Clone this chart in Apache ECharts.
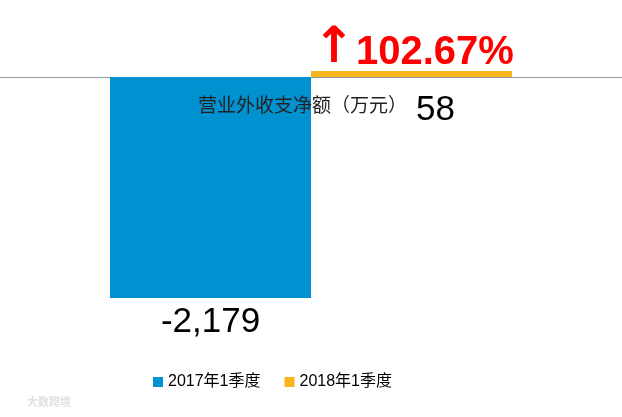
<!DOCTYPE html>
<html><head><meta charset="utf-8">
<script src="https://cdn.jsdelivr.net/npm/echarts@6/dist/echarts.min.js"></script>
<style>html,body{margin:0;padding:0;background:#fff}#c{width:622px;height:417px}</style>
</head><body><div id="c"></div>
<script>
const categories = ['营业外收支净额（万元）'];
const seriesNames = ['2017年1季度', '2018年1季度'];
const values2017 = [-2179];
const values2018 = [58];
const changeArrow = '↑';
const changeText = '102.67%';
const watermark = '大数跨境';

const chart = echarts.init(document.getElementById('c'));
const labelFmt = p => p.value.toLocaleString('en-US');
chart.setOption({
  animation: false,
  grid: { left: 0, right: 0, top: 71, bottom: 119 },
  xAxis: {
    type: 'category', data: categories,
    axisLine: { lineStyle: { color: '#999', width: 1 } },
    axisTick: { show: false }, axisLabel: { show: false }
  },
  yAxis: { type: 'value', min: 'dataMin', max: 'dataMax', show: false, splitLine: { show: false } },
  legend: {
    bottom: 22, left: 148, itemWidth: 10, itemHeight: 10, itemGap: 24,
    icon: 'rect',
    textStyle: { fontSize: 16, color: '#000', fontFamily: 'Liberation Sans, Noto Sans CJK SC' },
    data: seriesNames
  },
  title: {
    text: categories[0], left: 193, top: 90,
    textStyle: { fontSize: 19, fontWeight: 'normal', color: '#222', fontFamily: 'Noto Sans CJK SC' }
  },
  graphic: [
    { type: 'text', left: 313, top: 24,
      style: { text: changeArrow, fill: '#ff0000', font: 'bold 50px "DejaVu Sans"' } },
    { type: 'text', left: 356, top: 33,
      style: { text: changeText, fill: '#ff0000', font: 'bold 40px "Liberation Sans", "DejaVu Sans"' } },
    { type: 'text', left: 27, top: 396,
      style: { text: watermark, fill: '#e0e0e0', font: 'bold 11px "Noto Sans CJK SC"' } }
  ],
  series: [
    { name: seriesNames[0], type: 'bar', data: values2017, barWidth: 201, barGap: 0,
      itemStyle: { color: '#0092D0' },
      label: { show: true, position: 'bottom', distance: 7, formatter: labelFmt,
        fontSize: 35, color: '#000', fontFamily: 'Liberation Sans' } },
    { name: seriesNames[1], type: 'bar', data: values2018, barWidth: 201, barGap: 0,
      itemStyle: { color: '#F9B51E' },
      label: { show: true, position: 'bottom', distance: 16, offset: [24, 0], formatter: labelFmt,
        fontSize: 35, color: '#000', fontFamily: 'Liberation Sans' } }
  ]
});
</script></body></html>
